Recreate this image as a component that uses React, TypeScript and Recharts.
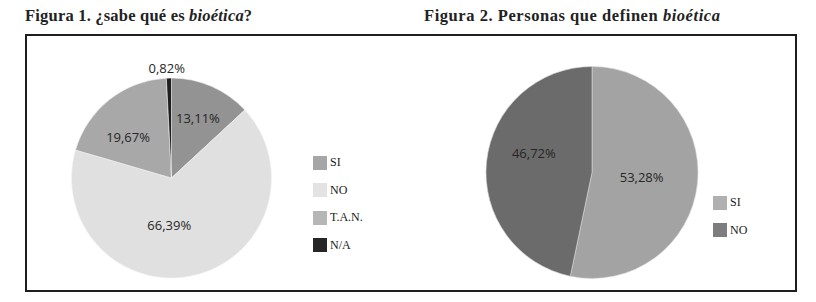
import React from 'react';
import { PieChart, Pie, Cell } from 'recharts';

// Figura 1
const fig1Names = ['SI', 'NO', 'T.A.N.', 'N/A'];
const fig1Values = [13.11, 66.39, 19.67, 0.82];
const fig1Labels = ['13,11%', '66,39%', '19,67%', '0,82%'];
const fig1Colors = ['#939393', '#e0e0e0', '#a8a8a8', '#1e1e1e'];
const fig1Legend = ['#a6a6a6', '#e3e3e3', '#b6b6b6', '#262626'];

// Figura 2
const fig2Names = ['SI', 'NO'];
const fig2Values = [53.28, 46.72];
const fig2Labels = ['53,28%', '46,72%'];
const fig2Colors = ['#a3a3a3', '#6b6b6b'];
const fig2Legend = ['#b0b0b0', '#7d7d7e'];

const fig1Data = fig1Names.map((name, i) => ({ name, value: fig1Values[i], label: fig1Labels[i] }));
const fig2Data = fig2Names.map((name, i) => ({ name, value: fig2Values[i], label: fig2Labels[i] }));

// label placement tweaks (radius fraction, angle nudge in degrees), roughly like Excel's best fit
const fig1LabelPos = [
  { r: 0.66, da: 0 },
  { r: 0.47, da: -16 },
  { r: 0.6, da: 8 },
  { r: 1.1, da: 1 },
];
const fig2LabelPos = [
  { r: 0.47, da: 1 },
  { r: 0.58, da: -13 },
];

const RAD = Math.PI / 180;
const sans = "'Open Sans', 'DejaVu Sans', sans-serif";
const serif = "'Liberation Serif', 'DejaVu Serif', serif";

const makeLabel = (tweaks: { r: number; da: number }[]) => (props: any) => {
  const { cx, cy, midAngle, outerRadius, index, payload } = props;
  const t = tweaks[index];
  const a = (midAngle + t.da) * RAD;
  const r = outerRadius * t.r;
  const x = cx + r * Math.cos(a);
  const y = cy - r * Math.sin(a);
  return (
    <text x={x} y={y} fill="#262626" fontSize={13} fontFamily={sans} textAnchor="middle" dominantBaseline="central">
      {payload.label}
    </text>
  );
};

const Legend = ({ names, colors, left, top }: { names: string[]; colors: string[]; left: number; top: number }) => (
  <div style={{ position: 'absolute', left, top }}>
    {names.map((n, i) => (
      <div key={n} style={{ display: 'flex', alignItems: 'center', height: 27.5 }}>
        <div style={{ width: 14, height: 14, background: colors[i], marginRight: 3 }} />
        <span style={{ fontFamily: serif, fontSize: 12, color: '#1a1a1a' }}>{n}</span>
      </div>
    ))}
  </div>
);

const titleStyle: React.CSSProperties = {
  position: 'absolute',
  top: 8,
  fontFamily: serif,
  fontWeight: 'bold',
  fontSize: 16.5,
  lineHeight: '16px',
  color: '#222',
  whiteSpace: 'nowrap',
};

export default function App() {
  return (
    <div style={{ position: 'absolute', left: 0, top: 0, width: 816, height: 302, background: '#fff', overflow: 'hidden' }}>
      <div style={{ ...titleStyle, left: 25, letterSpacing: 0.2 }}>
        Figura 1. ¿sabe qué es <i>bioética</i>?
      </div>
      <div style={{ ...titleStyle, left: 424, letterSpacing: 0.55 }}>
        Figura 2. Personas que definen <i>bioética</i>
      </div>
      <div style={{ position: 'absolute', left: 25, top: 34, width: 772, height: 258, border: '2px solid #1e1e1e', boxSizing: 'border-box' }} />

      <div style={{ position: 'absolute', left: 0, top: 0 }}>
        <PieChart width={816} height={302} margin={{ top: 0, right: 0, bottom: 0, left: 0 }}>
          <Pie
            data={fig1Data}
            dataKey="value"
            cx={171.5}
            cy={178}
            outerRadius={100}
            startAngle={90}
            endAngle={-270}
            stroke="#f4f4f4"
            strokeWidth={0.6}
            label={makeLabel(fig1LabelPos)}
            labelLine={false}
            isAnimationActive={false}
          >
            {fig1Data.map((d, i) => (
              <Cell key={d.name} fill={fig1Colors[i]} />
            ))}
          </Pie>
          <Pie
            data={fig2Data}
            dataKey="value"
            cx={592}
            cy={172.5}
            outerRadius={106}
            startAngle={90}
            endAngle={-270}
            stroke="#d8d8d8"
            strokeWidth={0.6}
            label={makeLabel(fig2LabelPos)}
            labelLine={false}
            isAnimationActive={false}
          >
            {fig2Data.map((d, i) => (
              <Cell key={d.name} fill={fig2Colors[i]} />
            ))}
          </Pie>
        </PieChart>
      </div>

      <Legend names={fig1Names} colors={fig1Legend} left={313} top={149} />
      <Legend names={fig2Names} colors={fig2Legend} left={713} top={189} />
    </div>
  );
}
